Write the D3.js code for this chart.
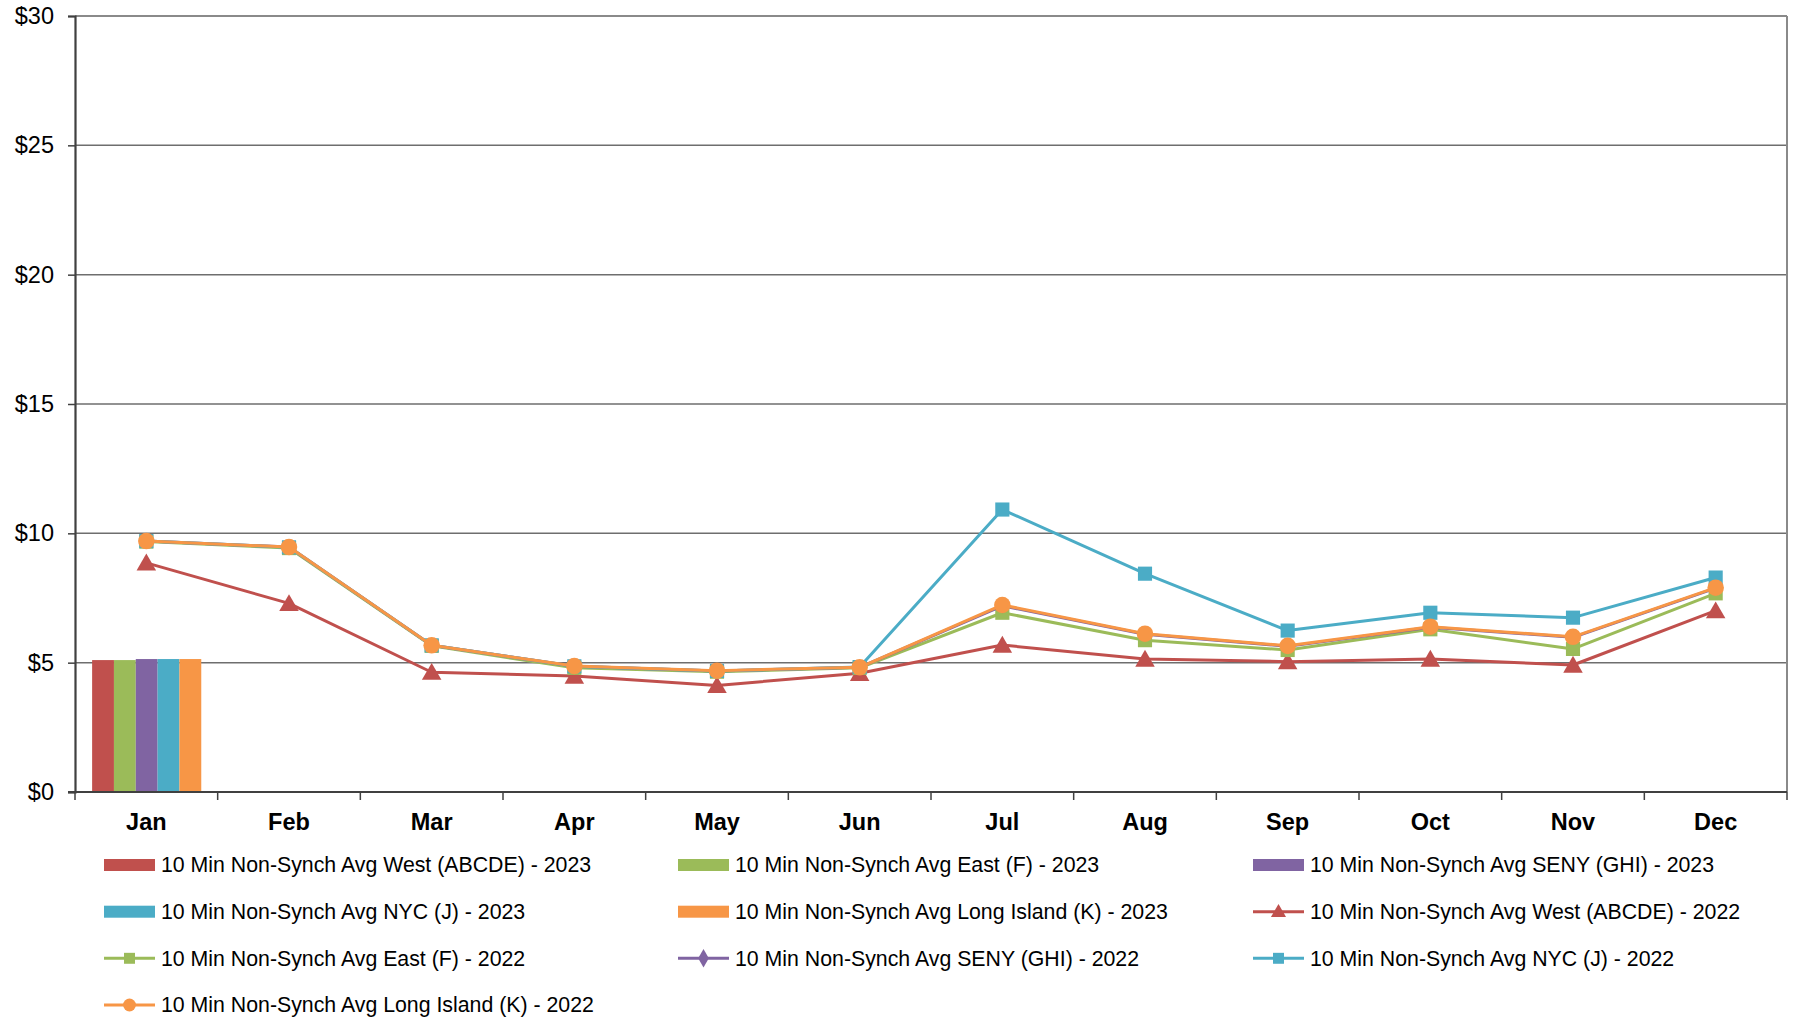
<!DOCTYPE html>
<html>
<head>
<meta charset="utf-8">
<script src="https://cdn.jsdelivr.net/npm/d3@7"></script>
<style>
  html, body { margin: 0; padding: 0; background: #fff; }
  svg { display: block; font-family: "Liberation Sans", Arial, sans-serif; }
</style>
</head>
<body>
<svg id="chart" width="1793" height="1019"></svg>
<script>
const months = ["Jan","Feb","Mar","Apr","May","Jun","Jul","Aug","Sep","Oct","Nov","Dec"];
const yTicks = [0, 5, 10, 15, 20, 25, 30];

const barSeries = [
  "10 Min Non-Synch Avg West (ABCDE) - 2023",
  "10 Min Non-Synch Avg East (F) - 2023",
  "10 Min Non-Synch Avg SENY (GHI) - 2023",
  "10 Min Non-Synch Avg NYC (J) - 2023",
  "10 Min Non-Synch Avg Long Island (K) - 2023"
];
const west2023 = [5.10, null, null, null, null, null, null, null, null, null, null, null];
const east2023 = [5.10, null, null, null, null, null, null, null, null, null, null, null];
const seny2023 = [5.14, null, null, null, null, null, null, null, null, null, null, null];
const nyc2023  = [5.14, null, null, null, null, null, null, null, null, null, null, null];
const li2023   = [5.14, null, null, null, null, null, null, null, null, null, null, null];

const lineSeries = [
  "10 Min Non-Synch Avg West (ABCDE) - 2022",
  "10 Min Non-Synch Avg East (F) - 2022",
  "10 Min Non-Synch Avg SENY (GHI) - 2022",
  "10 Min Non-Synch Avg NYC (J) - 2022",
  "10 Min Non-Synch Avg Long Island (K) - 2022"
];
const west2022 = [8.86, 7.29, 4.63, 4.48, 4.12, 4.59, 5.68, 5.14, 5.04, 5.14, 4.91, 7.01];
const east2022 = [9.68, 9.43, 5.65, 4.80, 4.65, 4.80, 6.93, 5.87, 5.49, 6.29, 5.53, 7.68];
const seny2022 = [9.70, 9.47, 5.67, 4.86, 4.68, 4.82, 7.20, 6.10, 5.63, 6.37, 5.98, 7.88];
const nyc2022  = [9.70, 9.46, 5.67, 4.86, 4.68, 4.83, 10.92, 8.44, 6.24, 6.93, 6.74, 8.29];
const li2022   = [9.70, 9.47, 5.67, 4.87, 4.69, 4.82, 7.23, 6.12, 5.65, 6.39, 6.00, 7.90];

const colors = ["#C0504D", "#9BBB59", "#8064A2", "#4BACC6", "#F79646"];
const markers = ["triangle", "square", "diamond", "square", "circle"];

const barData = [west2023, east2023, seny2023, nyc2023, li2023];
const lineData = [west2022, east2022, seny2022, nyc2022, li2022];

const svg = d3.select("#chart");
const L = 75, R = 1787, T = 16, B = 792;

const x = d3.scaleBand().domain(months).range([L, R]).padding(0);
const y = d3.scaleLinear().domain([0, 30]).range([B, T]);
const bw = x.bandwidth();
const xInner = d3.scaleBand().domain(barSeries).range([bw * 0.12, bw * 0.885]).padding(0);

// gridlines
svg.append("g").selectAll("line").data(yTicks.filter(d => d > 0)).join("line")
  .attr("x1", L).attr("x2", R)
  .attr("y1", d => y(d)).attr("y2", d => y(d))
  .attr("stroke", d => d === 30 ? "#8a8a8a" : "#6e6e6e")
  .attr("stroke-width", d => d === 30 ? 2 : 1.5);

// right border
svg.append("line").attr("x1", R).attr("x2", R).attr("y1", T).attr("y2", B)
  .attr("stroke", "#8a8a8a").attr("stroke-width", 2);

// bars
barData.forEach((vals, si) => {
  svg.append("g").selectAll("rect")
    .data(months.map((m, i) => ({ m, v: vals[i] })).filter(d => d.v != null))
    .join("rect")
    .attr("x", d => x(d.m) + xInner(barSeries[si]))
    .attr("width", xInner.bandwidth())
    .attr("y", d => y(d.v))
    .attr("height", d => y(0) - y(d.v))
    .attr("fill", colors[si]);
});

// y axis
const yAxis = d3.axisLeft(y).tickValues(yTicks).tickFormat(d => "$" + d).tickSize(7).tickPadding(14);
const gy = svg.append("g").attr("transform", `translate(${L},0)`).call(yAxis);
gy.select(".domain").attr("stroke", "#404040").attr("stroke-width", 2.2);
gy.selectAll(".tick line").attr("stroke", "#404040").attr("stroke-width", 1.5);
gy.selectAll(".tick text").attr("font-size", 23.5).attr("fill", "#000")
  .attr("font-family", "Liberation Sans, Arial, sans-serif");

// x axis (boundary ticks)
svg.append("line").attr("x1", L - 7).attr("x2", R).attr("y1", B).attr("y2", B)
  .attr("stroke", "#404040").attr("stroke-width", 2.2);
const boundaries = months.map(m => x(m)).concat([R]);
svg.append("g").selectAll("line").data(boundaries).join("line")
  .attr("x1", d => d).attr("x2", d => d).attr("y1", B).attr("y2", B + 8)
  .attr("stroke", "#404040").attr("stroke-width", 1.5);
const xAxis = d3.axisBottom(x).tickSize(0).tickPadding(21);
const gx = svg.append("g").attr("transform", `translate(0,${B})`).call(xAxis);
gx.select(".domain").remove();
gx.selectAll(".tick text").attr("font-size", 23.5).attr("font-weight", "bold").attr("fill", "#000")
  .attr("font-family", "Liberation Sans, Arial, sans-serif");

// marker shape helper
function symbolFor(kind, scale) {
  const s = scale || 1;
  if (kind === "triangle") return d3.symbol().type(d3.symbolTriangle).size(165 * s)();
  if (kind === "square") return d3.symbol().type(d3.symbolSquare).size(200 * s)();
  if (kind === "diamond") return d3.symbol().type(d3.symbolDiamond).size(70 * s)();
  return d3.symbol().type(d3.symbolCircle).size(215 * s)();
}

const cx = m => x(m) + bw / 2;
const lineGen = d3.line().x(d => cx(d.m)).y(d => y(d.v));

lineData.forEach((vals, si) => {
  const pts = months.map((m, i) => ({ m, v: vals[i] }));
  const g = svg.append("g");
  g.append("path").datum(pts).attr("d", lineGen)
    .attr("fill", "none").attr("stroke", colors[si]).attr("stroke-width", 3)
    .attr("stroke-linejoin", "round");
  g.selectAll("path.mk").data(pts).join("path").attr("class", "mk")
    .attr("d", symbolFor(markers[si]))
    .attr("transform", d => `translate(${cx(d.m)},${y(d.v) + (markers[si] === "triangle" ? 2 : 0)})`)
    .attr("fill", colors[si]);
});

// legend
const legendItems = [];
barSeries.forEach((n, i) => legendItems.push({ name: n, type: "bar", color: colors[i] }));
lineSeries.forEach((n, i) => legendItems.push({ name: n, type: "line", color: colors[i], marker: markers[i] }));
const colX = [104, 678, 1253];
const rowY = [865, 911.7, 958.3, 1005];
const lg = svg.append("g");
legendItems.forEach((it, i) => {
  const gx0 = colX[i % 3], gy0 = rowY[Math.floor(i / 3)];
  const g = lg.append("g").attr("transform", `translate(${gx0},${gy0})`);
  if (it.type === "bar") {
    g.append("rect").attr("x", 0).attr("y", -6).attr("width", 51).attr("height", 12).attr("fill", it.color);
  } else {
    g.append("line").attr("x1", 0).attr("x2", 51).attr("y1", 0).attr("y2", 0)
      .attr("stroke", it.color).attr("stroke-width", 3);
    g.append("path").attr("d", symbolFor(it.marker, it.marker === "diamond" ? 1.4 : 0.6))
      .attr("transform", `translate(25.5,${it.marker === "triangle" ? 1 : 0})`).attr("fill", it.color);
  }
  g.append("text").attr("x", 57).attr("y", 0).attr("dy", "0.35em")
    .attr("font-size", 21.3).attr("fill", "#000").text(it.name);
});
</script>
</body>
</html>
